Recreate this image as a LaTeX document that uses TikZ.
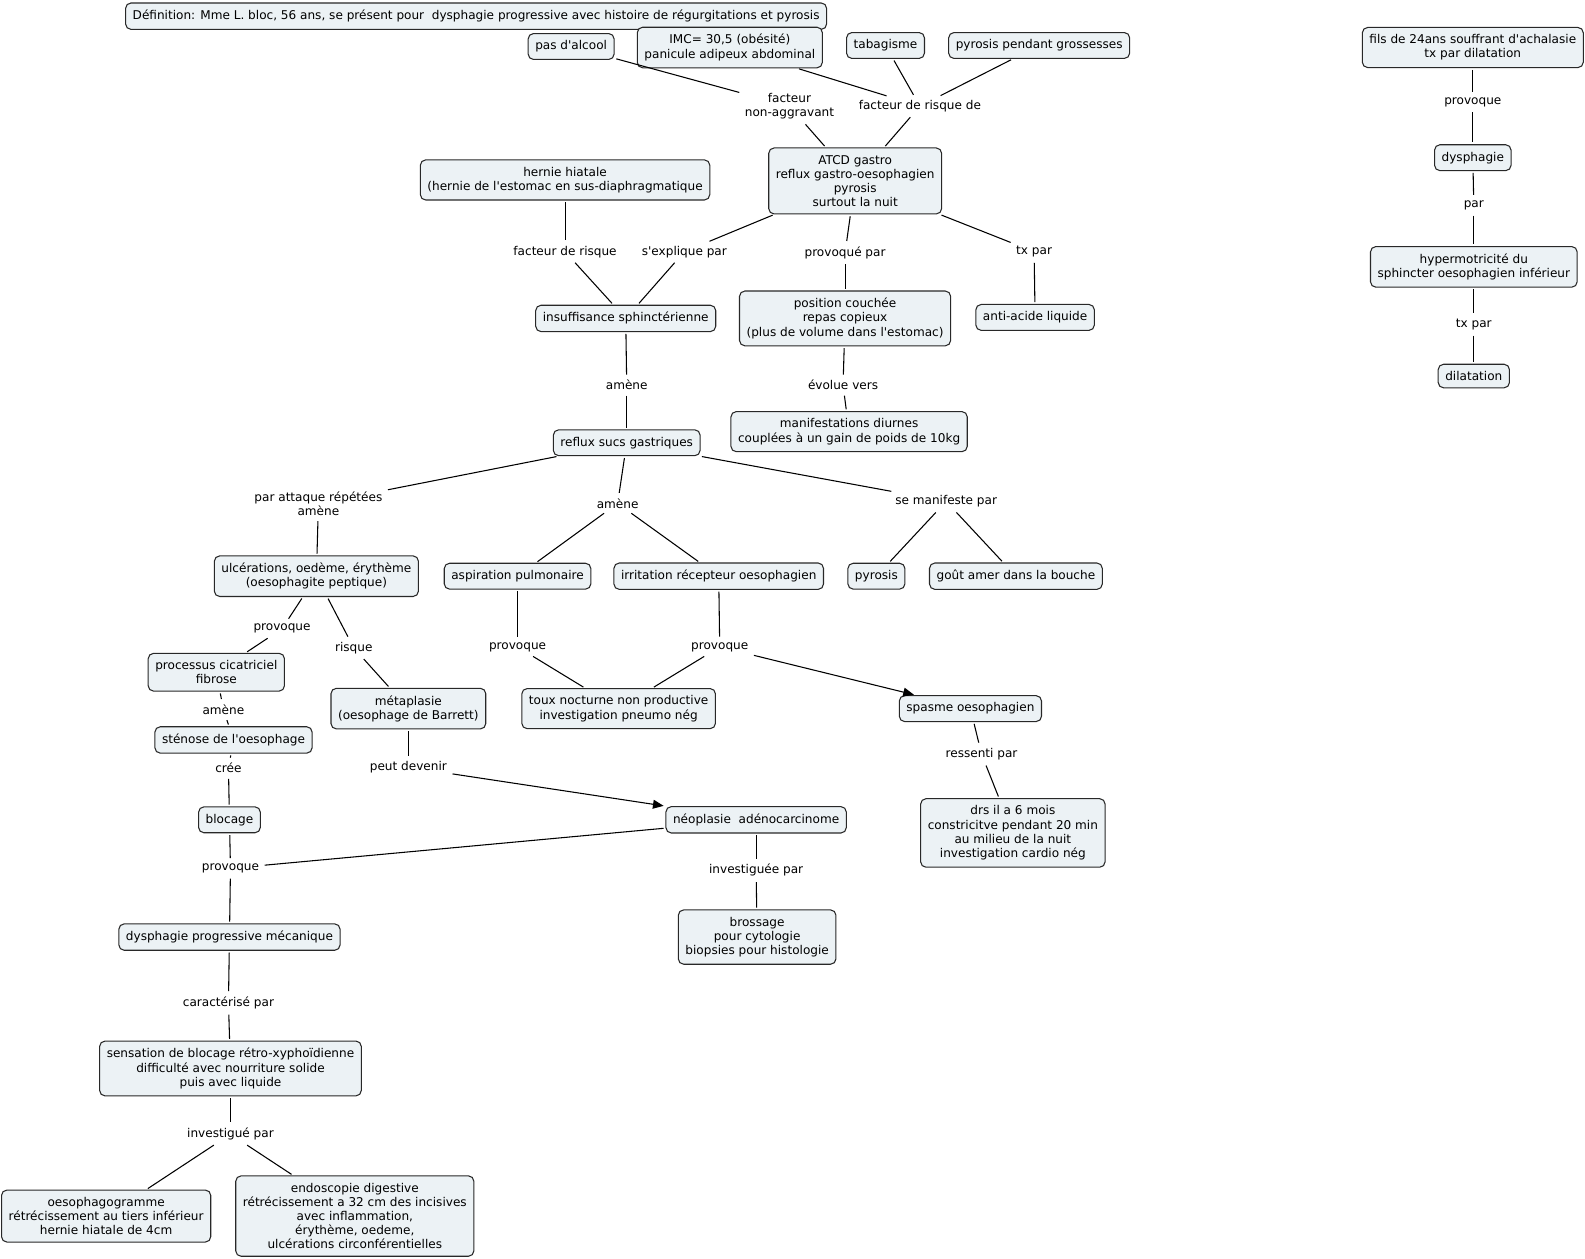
\documentclass[tikz,border=0pt]{standalone}
\usepackage{fontspec}
\setmainfont{DejaVu Sans}[Ligatures=TeXOff]
\usetikzlibrary{arrows.meta}
\definecolor{cfill}{RGB}{236,242,245}
\definecolor{cline}{RGB}{40,40,40}
\tikzset{
  concept/.style={draw=cline, fill=cfill, rounded corners=3pt, align=center,
    inner xsep=4pt, inner ysep=4pt, line width=0.6pt, font=\fontsize{6.8}{8}\selectfont},
  phrase/.style={align=center, inner sep=2pt, font=\fontsize{6.8}{8}\selectfont},
  link/.style={line width=0.6pt, shorten <=1pt, shorten >=1pt},
  arrowlink/.style={link, -{Triangle[length=6pt,width=5pt]}}
}
\begin{document}
\begin{tikzpicture}[x=0.02cm, y=-0.02cm]
  \useasboundingbox (0,0) rectangle (1568,1245);
  % concepts
  \node[concept] (def) at (471,16) {Définition: Mme L. bloc, 56 ans, se présent pour~ dysphagie progressive avec histoire de régurgitations et pyrosis};
  \node[concept] (alcool) at (565,46) {pas d'alcool};
  \node[concept] (imc) at (722,47) {IMC= 30,5 (obésité)\\panicule adipeux abdominal};
  \node[concept] (tabac) at (876,45) {tabagisme};
  \node[concept] (grossesse) at (1028,45) {pyrosis pendant grossesses};
  \node[concept] (atcd) at (846,179) {ATCD gastro\\reflux gastro-oesophagien\\pyrosis\\surtout la nuit};
  \node[concept] (hernie) at (559,178) {hernie hiatale\\(hernie de l'estomac en sus-diaphragmatique};
  \node[concept] (insuff) at (619,315) {insuffisance sphinctérienne};
  \node[concept] (position) at (836,315) {position couchée\\repas copieux\\(plus de volume dans l'estomac)};
  \node[concept] (antiacide) at (1024,314) {anti-acide liquide};
  \node[concept] (manif) at (840,427) {manifestations diurnes\\couplées à un gain de poids de 10kg};
  \node[concept] (reflux) at (620,438) {reflux sucs gastriques};
  \node[concept] (ulcer) at (313,570) {ulcérations, oedème, érythème\\(oesophagite peptique)};
  \node[concept] (aspiration) at (512,570) {aspiration pulmonaire};
  \node[concept] (irritation) at (711,570) {irritation récepteur oesophagien};
  \node[concept] (pyrosis) at (867,570) {pyrosis};
  \node[concept] (gout) at (1005,570) {goût amer dans la bouche};
  \node[concept] (processus) at (214,665) {processus cicatriciel\\fibrose};
  \node[concept] (metaplasie) at (404,701) {métaplasie\\(oesophage de Barrett)};
  \node[concept] (toux) at (612,701) {toux nocturne non productive\\investigation pneumo nég};
  \node[concept] (spasme) at (960,701) {spasme oesophagien};
  \node[concept] (stenose) at (231,732) {sténose de l'oesophage};
  \node[concept] (blocage) at (227,811) {blocage};
  \node[concept] (neoplasie) at (748,811) {néoplasie~ adénocarcinome};
  \node[concept] (drs) at (1002,824) {drs il a 6 mois\\constricitve pendant 20 min\\au milieu de la nuit\\investigation cardio nég};
  \node[concept] (brossage) at (749,927) {brossage\\pour cytologie\\biopsies pour histologie};
  \node[concept] (dysmeca) at (227,927) {dysphagie progressive mécanique};
  \node[concept] (sensation) at (228,1057) {sensation de blocage rétro-xyphoïdienne\\difficulté avec nourriture solide\\puis avec liquide};
  \node[concept] (oesophago) at (105,1203) {oesophagogramme\\rétrécissement au tiers inférieur\\hernie hiatale de 4cm};
  \node[concept] (endoscopie) at (351,1203) {endoscopie digestive\\rétrécissement a 32 cm des incisives\\avec inflammation,\\érythème, oedeme,\\ ulcérations circonférentielles};
  \node[concept] (fils) at (1457,47) {fils de 24ans souffrant d'achalasie\\tx par dilatation};
  \node[concept] (dysphagie) at (1457,156) {dysphagie};
  \node[concept] (hyper) at (1458,264) {hypermotricité du\\sphincter oesophagien inférieur};
  \node[concept] (dilatation) at (1458,372) {dilatation};
  % linking phrases
  \node[phrase] (lnonagg) at (781,105) {facteur\\non-aggravant};
  \node[phrase] (lrisquede) at (910,105) {facteur de risque de};
  \node[phrase] (lrisque) at (559,249) {facteur de risque};
  \node[phrase] (lexplique) at (677,249) {s'explique par};
  \node[phrase] (lprovoquepar) at (836,250) {provoqué par};
  \node[phrase] (ltx) at (1023,249) {tx par};
  \node[phrase] (lamene) at (620,381) {amène};
  \node[phrase] (levolue) at (834,381) {évolue vers};
  \node[phrase] (lattaque) at (315,498) {par attaque répétées\\amène};
  \node[phrase] (lamenebis) at (611,498) {amène};
  \node[phrase] (lmanifeste) at (936,496) {se manifeste par};
  \node[phrase] (lprovulcer) at (279,622) {provoque};
  \node[phrase] (lrisq) at (350,641) {risque};
  \node[phrase] (lprovasp) at (512,640) {provoque};
  \node[phrase] (lprovirr) at (712,640) {provoque};
  \node[phrase] (lameneter) at (221,702) {amène};
  \node[phrase] (lcree) at (226,760) {crée};
  \node[phrase] (ldevenir) at (404,759) {peut devenir};
  \node[phrase] (lressenti) at (971,746) {ressenti par};
  \node[phrase] (lprovbloc) at (228,859) {provoque};
  \node[phrase] (linvestiguee) at (748,861) {investiguée par};
  \node[phrase] (lcarac) at (226,992) {caractérisé par};
  \node[phrase] (linvestigue) at (228,1122) {investigué par};
  \node[phrase] (lprovfils) at (1457,101) {provoque};
  \node[phrase] (lpar) at (1458,203) {par};
  \node[phrase] (ltxpar) at (1458,321) {tx par};
  % connectors
  \foreach \a/\b in {alcool/lnonagg, lnonagg/atcd, imc/lrisquede, tabac/lrisquede,
      grossesse/lrisquede, lrisquede/atcd, hernie/lrisque, lrisque/insuff,
      atcd/lexplique, lexplique/insuff, atcd/lprovoquepar, lprovoquepar/position,
      atcd/ltx, ltx/antiacide, insuff/lamene, lamene/reflux, position/levolue,
      levolue/manif, reflux/lattaque, lattaque/ulcer, reflux/lamenebis,
      lamenebis/aspiration, lamenebis/irritation, reflux/lmanifeste,
      lmanifeste/pyrosis, lmanifeste/gout, ulcer/lprovulcer, lprovulcer/processus,
      ulcer/lrisq, lrisq/metaplasie, aspiration/lprovasp, lprovasp/toux,
      irritation/lprovirr, lprovirr/toux, processus/lameneter, lameneter/stenose,
      stenose/lcree, lcree/blocage, metaplasie/ldevenir, spasme/lressenti,
      lressenti/drs, blocage/lprovbloc, neoplasie/lprovbloc, lprovbloc/dysmeca,
      neoplasie/linvestiguee, linvestiguee/brossage, dysmeca/lcarac,
      lcarac/sensation, sensation/linvestigue, linvestigue/oesophago,
      linvestigue/endoscopie, fils/lprovfils, lprovfils/dysphagie,
      dysphagie/lpar, lpar/hyper, hyper/ltxpar, ltxpar/dilatation}
    \draw[link] (\a) -- (\b);
  \draw[arrowlink] (lprovirr) -- (spasme);
  \draw[arrowlink] (ldevenir) -- (neoplasie);
\end{tikzpicture}
\end{document}
